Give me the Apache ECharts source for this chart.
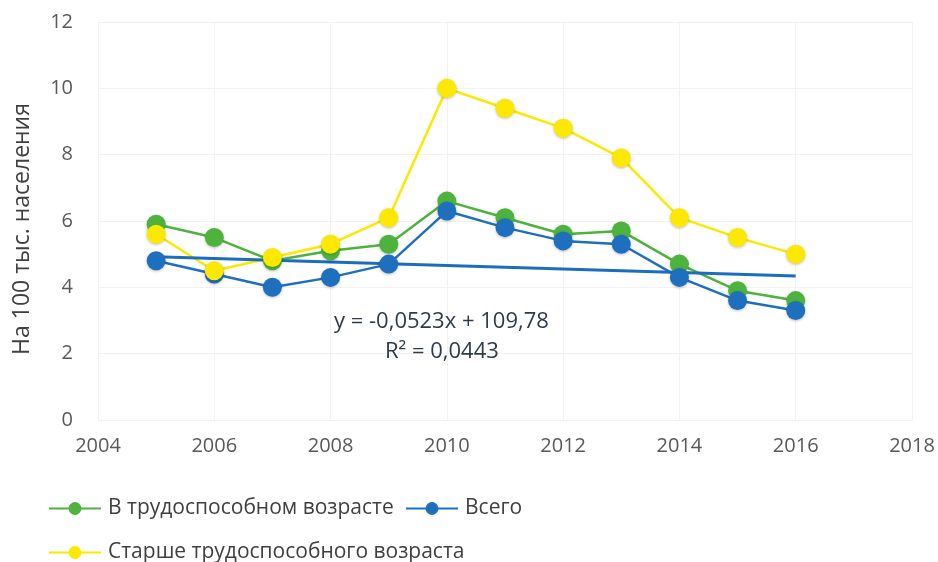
<!DOCTYPE html>
<html>
<head>
<meta charset="utf-8">
<script src="https://cdn.jsdelivr.net/npm/echarts@6/dist/echarts.min.js"></script>
<style>
  html, body { margin: 0; padding: 0; background: #fff; }
  #chart { width: 938px; height: 562px; }
</style>
</head>
<body>
<div id="chart"></div>
<script>
const years = [2005, 2006, 2007, 2008, 2009, 2010, 2011, 2012, 2013, 2014, 2015, 2016];
const workingAge = [5.9, 5.5, 4.8, 5.1, 5.3, 6.6, 6.1, 5.6, 5.7, 4.7, 3.9, 3.6];
const total = [4.8, 4.4, 4.0, 4.3, 4.7, 6.3, 5.8, 5.4, 5.3, 4.3, 3.6, 3.3];
const olderAge = [5.6, 4.5, 4.9, 5.3, 6.1, 10.0, 9.4, 8.8, 7.9, 6.1, 5.5, 5.0];

// linear trend for "Всего" as printed on the chart
const trendSlope = -0.0523;
const trendIntercept = 109.78;
const trendYears = [2005, 2016];

const GREEN = "#4db33d";
const BLUE = "#1f6fbf";
const YELLOW = "#fce800";
const FONT = "'Open Sans', sans-serif";

const chart = echarts.init(document.getElementById("chart"));

const pairs = (vals) => years.map((y, i) => [y, vals[i]]);

const lineSeries = (name, color, vals) => ({
  name,
  type: "line",
  data: pairs(vals),
  symbol: "circle",
  symbolSize: 19,
  lineStyle: { color, width: 2.5 },
  itemStyle: {
    color,
    shadowColor: "rgba(0,0,0,0.25)",
    shadowBlur: 3,
    shadowOffsetY: 1,
  },
});

const legendBase = {
  orient: "horizontal",
  padding: 0,
  itemWidth: 52,
  itemHeight: 16,
  itemGap: 6,
  textStyle: { fontFamily: FONT, fontSize: 21, color: "#404040", padding: [0, 0, 0, 2] },
};

chart.setOption({
  animation: false,
  backgroundColor: "#ffffff",
  grid: { left: 98, right: 26, top: 22, bottom: 142 },
  xAxis: {
    type: "value",
    min: 2004,
    max: 2018,
    interval: 2,
    axisLine: { show: false },
    axisTick: { show: false },
    axisLabel: {
      margin: 16,
      fontFamily: FONT,
      fontSize: 20,
      color: "#595959",
      formatter: (v) => String(v),
    },
    splitLine: { show: true, lineStyle: { color: "#f2f2f2" } },
  },
  yAxis: {
    type: "value",
    min: 0,
    max: 12,
    interval: 2,
    name: "На 100 тыс. населения",
    nameLocation: "middle",
    nameGap: 64,
    nameRotate: 90,
    nameTextStyle: { fontFamily: FONT, fontSize: 23, color: "#404040", padding: [0, 16, 0, 0] },
    axisLine: { show: false },
    axisTick: { show: false },
    axisLabel: { margin: 25, fontFamily: FONT, fontSize: 20, color: "#595959" },
    splitLine: { show: true, lineStyle: { color: "#f2f2f2" } },
  },
  legend: [
    Object.assign({}, legendBase, { left: 48, top: 498, data: ["В трудоспособном возрасте"] }),
    Object.assign({}, legendBase, { left: 405, top: 498, data: ["Всего"] }),
    Object.assign({}, legendBase, { left: 48, top: 542, data: ["Старше трудоспособного возраста"] }),
  ],
  graphic: [
    {
      type: "text",
      left: 334,
      top: 311,
      z: 10,
      style: {
        text: "y = -0,0523x + 109,78",
        font: "22px " + FONT,
        fill: "#2f3b4c",
      },
    },
    {
      type: "text",
      left: 385,
      top: 341,
      z: 10,
      style: {
        text: "R² = 0,0443",
        font: "22px " + FONT,
        fill: "#2f3b4c",
      },
    },
  ],
  series: [
    lineSeries("В трудоспособном возрасте", GREEN, workingAge),
    lineSeries("Всего", BLUE, total),
    lineSeries("Старше трудоспособного возраста", YELLOW, olderAge),
    {
      name: "trend",
      type: "line",
      data: trendYears.map((y) => [y, trendSlope * y + trendIntercept]),
      symbol: "none",
      lineStyle: { color: "#1a6dc0", width: 3 },
      silent: true,
    },
  ],
});
</script>
</body>
</html>
